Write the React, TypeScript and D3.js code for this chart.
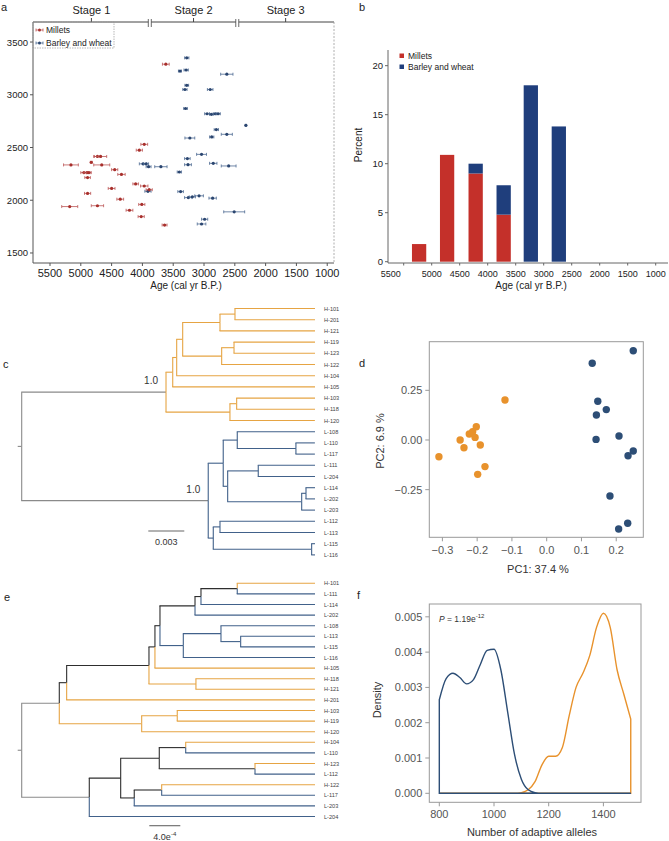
import * as d3 from "d3";
import React from "react";

const FONT = "'Liberation Sans', Arial, Helvetica, sans-serif";

// ---- panel a: dated grains (age cal yr BP, altitude m, 1-sigma error)
const milletAge = [3620, 3970, 4050, 4730, 4680, 4830, 5160, 4660, 4450, 4950, 4900, 4870, 4340, 4890, 4110, 3970, 4500, 3890, 4890, 4360, 4010, 5180, 4730, 4210, 4020, 3640];
const milletAlt = [3290, 2530, 2475, 2415, 2415, 2360, 2335, 2335, 2290, 2262, 2262, 2262, 2245, 2215, 2155, 2135, 2112, 2100, 2065, 2010, 1960, 1940, 1948, 1905, 1845, 1765];
const milletErr = [55, 55, 50, 60, 100, 15, 120, 130, 50, 50, 50, 40, 60, 45, 45, 60, 55, 50, 50, 55, 50, 130, 100, 55, 50, 40];

const barleyAge = [3280, 3390, 3290, 2630, 3280, 3310, 2900, 3300, 2950, 2880, 2820, 2770, 2320, 2800, 2630, 2875, 3230, 3040, 3270, 2850, 3990, 3940, 3260, 2600, 3900, 3700, 3400, 3910, 3380, 3255, 3190, 3080, 2860, 2510, 2990, 3040];
const barleyAlt = [3350, 3225, 3235, 3195, 3090, 3050, 3050, 2870, 2820, 2815, 2820, 2820, 2710, 2670, 2625, 2600, 2590, 2435, 2395, 2350, 2345, 2345, 2337, 2325, 2318, 2318, 2268, 2085, 2082, 2025, 2032, 2042, 2020, 1890, 1820, 1775];
const barleyErr = [35, 25, 35, 100, 30, 35, 45, 30, 40, 30, 30, 35, 10, 35, 90, 35, 80, 80, 45, 60, 60, 40, 55, 120, 40, 100, 35, 50, 45, 60, 50, 70, 60, 170, 50, 70];

const stageNames = ["Stage 1", "Stage 2", "Stage 3"];
const stageBreaks = [3880, 2460];
const ageTicks = [5500, 5000, 4500, 4000, 3500, 3000, 2500, 2000, 1500, 1000];
const altTicks = [1500, 2000, 2500, 3000, 3500];

// ---- panel b: percent per 500-yr bin
const binCenters = [5225, 4725, 4215, 3715, 3230, 2730];
const milletPct = [1.8, 10.9, 9.0, 4.8, 0, 0];
const barleyPct = [0, 0, 1.0, 3.0, 18.0, 13.8];
const pctTicks = [0, 5, 10, 15, 20];

// ---- panel c / e: trees
const treeC =
  "(((((((H-101:0.00667,H-201:0.00667):0.00125,H-121:0.00792):0.00311,((H-119:0.00675,H-123:0.00675):0.00103,H-122:0.00778):0.00325):0.0005,H-104:0.01153):0.00033,H-105:0.01186):0.00056,((H-103:0.00653,H-118:0.00653):0.00056,H-120:0.00708):0.00533)1.0:0.01203," +
  "(((L-108:0.00648,(L-110:0.00158,L-117:0.00158):0.00489):0.00117,((L-111:0.00473,L-204:0.00473):0.00255,((L-114:0.00075,L-202:0.00075):0.00036,L-203:0.00111):0.00617):0.00037):0.00125,((L-112:0.00792,L-113:0.00792):0.00056,(L-115:0.00028,L-116:0.00028):0.0082):0.00042)1.0:0.01555);";

const treeE =
  "(((((((((H-101:0.001003,L-111:0.001003):0.000468,L-114:0.001471):0.000077,L-202:0.001548):0.000452,((L-108:0.001213,(L-113:0.000959,L-115:0.000959):0.000254):0.000486,L-116:0.001699):0.000301):0.000065,H-105:0.002065):0.000077,(H-118:0.001535,H-121:0.001535):0.000606):0.001062,H-201:0.003204):0.000095,((H-103:0.001777,H-119:0.001777):0.000459,H-120:0.002236):0.001063):0.000485," +
  "((((H-104:0.001668,L-110:0.001668):0.000341,(H-123:0.000774,L-112:0.000774):0.001235):0.000498,((H-122:0.001978,L-117:0.001978):0.000354,L-203:0.002332):0.000175):0.000405,L-204:0.002912):0.000872);";

// ---- panel d: PCA
const hPC1 = [-0.12, -0.2025, -0.2227, -0.213, -0.206, -0.249, -0.238, -0.191, -0.31, -0.1775, -0.1985];
const hPC2 = [0.201, 0.067, 0.03, 0.042, 0.013, 0.0, -0.039, -0.025, -0.084, -0.134, -0.173];
const lPC1 = [0.249, 0.131, 0.147, 0.1715, 0.143, 0.142, 0.208, 0.249, 0.234, 0.182, 0.233, 0.207];
const lPC2 = [0.449, 0.386, 0.195, 0.153, 0.126, 0.003, 0.02, -0.055, -0.079, -0.282, -0.419, -0.448];
const pc1Ticks = [-0.3, -0.2, -0.1, 0.0, 0.1, 0.2];
const pc2Ticks = [-0.25, 0, 0.25];

// ---- panel f: density of adaptive alleles
const alleles = [800, 825, 850, 875, 900, 925, 950, 975, 1000, 1025, 1050, 1075, 1100, 1125, 1150, 1175, 1200, 1225, 1250, 1275, 1300, 1325, 1350, 1375, 1400, 1425, 1450, 1475, 1500];
const lowDens = [0.00265, 0.00325, 0.0034, 0.00328, 0.0031, 0.00322, 0.00365, 0.00405, 0.00408, 0.0035, 0.0023, 0.0011, 0.0004, 0.0001, 0.00002, 0, 0, 0, 0, 0, 0, 0, 0, 0, 0, 0, 0, 0, 0];
const highDens = [0, 0, 0, 0, 0, 0, 0, 0, 0, 0, 0, 0, 0.00002, 0.0001, 0.00033, 0.0008, 0.00105, 0.00105, 0.0013, 0.0022, 0.003, 0.0034, 0.0039, 0.0047, 0.0051, 0.0047, 0.0035, 0.0028, 0.0021];
const densTicks = [0, 0.001, 0.002, 0.003, 0.004, 0.005];
const alleleTicks = [800, 1000, 1200, 1400];

const RED_A = "#a8302c";
const BLUE_A = "#2b4670";
const RED_B = "#c4302a";
const BLUE_B = "#1f3e7c";
const ORANGE = "#e6a443";
const LBLUE = "#41618a";
const ORANGE_D = "#e8922c";
const BLUE_D = "#2d4e76";

type TNode = { name: string; len: number; children: TNode[] };

function parseNewick(str: string): TNode {
  let i = 0;
  function node(): TNode {
    const n: TNode = { name: "", len: 0, children: [] };
    if (str[i] === "(") {
      i++;
      n.children.push(node());
      while (str[i] === ",") {
        i++;
        n.children.push(node());
      }
      i++;
    }
    let tok = "";
    while (i < str.length && !",():;".includes(str[i])) tok += str[i++];
    n.name = tok;
    if (str[i] === ":") {
      i++;
      let num = "";
      while (i < str.length && !",();".includes(str[i])) num += str[i++];
      n.len = +num;
    }
    return n;
  }
  return node();
}

function Tree({
  newick, x0, x1, yStart, step, scaleLen, scaleLabel, scaleX, scaleY,
}: {
  newick: string; x0: number; x1: number; yStart: number; step: number;
  scaleLen: number; scaleLabel: React.ReactNode; scaleX: number; scaleY: number;
}) {
  const root = d3.hierarchy(parseNewick(newick), (d) => (d.children.length ? d.children : null));
  const depth = new Map<any, number>();
  root.eachBefore((n) => depth.set(n, n.parent ? depth.get(n.parent)! + n.data.len : 0));
  const maxDepth = d3.max(root.leaves(), (l) => depth.get(l)!)!;
  const x = d3.scaleLinear().domain([0, maxDepth]).range([x0, x1]);
  const yPos = new Map<any, number>();
  root.leaves().forEach((l, i) => yPos.set(l, yStart + i * step));
  root.eachAfter((n) => {
    if (n.children) yPos.set(n, (yPos.get(n.children[0])! + yPos.get(n.children[n.children.length - 1])!) / 2);
  });
  const color = (n: any) => {
    if (n.parent && !n.parent.parent) return "#8a8a8a";
    const tips = n.leaves().map((l: any) => l.data.name[0]);
    if (tips.every((t: string) => t === "H")) return ORANGE;
    if (tips.every((t: string) => t === "L")) return LBLUE;
    return "#2e2e2e";
  };
  const segs: React.ReactNode[] = [];
  root.descendants().forEach((n, i) => {
    if (!n.parent) return;
    const px = x(depth.get(n.parent)!);
    const py = yPos.get(n.parent)!;
    const nx = x(depth.get(n)!);
    const ny = yPos.get(n)!;
    const c = color(n);
    segs.push(<line key={"v" + i} x1={px} x2={px} y1={py} y2={ny} stroke={c} strokeWidth={1.1} />);
    segs.push(<line key={"h" + i} x1={px - 0.5} x2={nx} y1={ny} y2={ny} stroke={c} strokeWidth={1.1} />);
    if (n.data.name && n.children) {
      segs.push(
        <text key={"s" + i} x={nx - 8} y={ny - 8} textAnchor="end" fontSize={10} fill="#333">
          {n.data.name}
        </text>
      );
    }
  });
  const ry = yPos.get(root)!;
  return (
    <g>
      <line x1={x0 - 4} x2={x0} y1={ry} y2={ry} stroke="#8a8a8a" strokeWidth={1.1} />
      {segs}
      {root.leaves().map((l, i) => (
        <text key={i} x={x1 + 9} y={yPos.get(l)!} dominantBaseline="central" fontSize={5.6} fill="#444">
          {l.data.name}
        </text>
      ))}
      <line x1={scaleX} x2={scaleX + x(scaleLen) - x(0)} y1={scaleY} y2={scaleY} stroke="#666" strokeWidth={1.1} />
      <text x={scaleX + (x(scaleLen) - x(0)) / 2} y={scaleY + 14} textAnchor="middle" fontSize={9} fill="#333">
        {scaleLabel}
      </text>
    </g>
  );
}

function PanelA() {
  const left = 33, right = 334, top = 22, bottom = 263;
  const x = d3.scaleLinear().domain([5776, 890]).range([left, right]);
  const y = d3.scaleLinear().domain([1405, 3690]).range([bottom, top]);
  const b = stageBreaks.map(x);
  const segs = [[left, b[0] - 1.5], [b[0] + 1.5, b[1] - 1.5], [b[1] + 1.5, right]];
  const edges = [x.domain()[0], ...stageBreaks, x.domain()[1]];
  const series = [
    { age: barleyAge, alt: barleyAlt, err: barleyErr, c: BLUE_A, e: "#4d6a92" },
    { age: milletAge, alt: milletAlt, err: milletErr, c: RED_A, e: "#bb5555" },
  ];
  const icon = (cx: number, cy: number, c: string, e: string) => (
    <g>
      <line x1={cx - 3.5} x2={cx + 3.5} y1={cy} y2={cy} stroke={e} strokeWidth={0.8} />
      <line x1={cx - 3.5} x2={cx - 3.5} y1={cy - 1.5} y2={cy + 1.5} stroke={e} strokeWidth={0.8} />
      <line x1={cx + 3.5} x2={cx + 3.5} y1={cy - 1.5} y2={cy + 1.5} stroke={e} strokeWidth={0.8} />
      <circle cx={cx} cy={cy} r={1.5} fill={c} />
    </g>
  );
  return (
    <g>
      <text x={1} y={11} fontSize={11} fill="#222">a</text>
      {segs.map((s, i) => (
        <g key={i}>
          <line x1={s[0]} x2={s[1]} y1={top} y2={top} stroke="#444" strokeWidth={1} />
          {i > 0 && <line x1={s[0]} x2={s[0]} y1={top - 3} y2={top + 5} stroke="#444" strokeWidth={0.8} />}
          {i < 2 && <line x1={s[1]} x2={s[1]} y1={top - 3} y2={top + 5} stroke="#444" strokeWidth={0.8} />}
        </g>
      ))}
      {stageNames.map((s, i) => {
        const cx = x((edges[i] + edges[i + 1]) / 2);
        return (
          <g key={s}>
            <line x1={cx} x2={cx} y1={top - 4} y2={top} stroke="#444" />
            <text x={cx} y={14} textAnchor="middle" fontSize={11} fill="#222">{s}</text>
          </g>
        );
      })}
      <line x1={left} x2={left} y1={top} y2={bottom} stroke="#555" />
      <line x1={left} x2={right} y1={bottom} y2={bottom} stroke="#555" />
      <line x1={right} x2={right} y1={top} y2={bottom} stroke="#999" strokeDasharray="2,1.5" strokeWidth={0.8} />
      {altTicks.map((t) => (
        <g key={t}>
          <line x1={left - 3} x2={left} y1={y(t)} y2={y(t)} stroke="#555" />
          <text x={left - 5} y={y(t)} textAnchor="end" dominantBaseline="central" fontSize={9.5} fill="#222">{t}</text>
        </g>
      ))}
      {ageTicks.map((t) => (
        <g key={t}>
          <line x1={x(t)} x2={x(t)} y1={bottom} y2={bottom + 3} stroke="#555" />
          <text x={x(t)} y={bottom + 14} textAnchor="middle" fontSize={11} fill="#222">{t}</text>
        </g>
      ))}
      <text x={186} y={289} textAnchor="middle" fontSize={10} fill="#222">Age (cal yr B.P.)</text>
      {series.map((s, k) => (
        <g key={k}>
          {s.age.map((a, i) => {
            const cy = y(s.alt[i]);
            const xa = x(a + s.err[i]);
            const xb = x(a - s.err[i]);
            return (
              <g key={i}>
                <line x1={xa} x2={xb} y1={cy} y2={cy} stroke={s.e} strokeWidth={0.8} />
                <line x1={xa} x2={xa} y1={cy - 1.5} y2={cy + 1.5} stroke={s.e} strokeWidth={0.8} />
                <line x1={xb} x2={xb} y1={cy - 1.5} y2={cy + 1.5} stroke={s.e} strokeWidth={0.8} />
                <circle cx={x(a)} cy={cy} r={1.6} fill={s.c} />
              </g>
            );
          })}
        </g>
      ))}
      <rect x={left} y={top} width={81} height={26} fill="none" stroke="#999" strokeDasharray="1.5,1" strokeWidth={0.7} />
      {icon(39.5, 30, RED_A, "#bb5555")}
      <text x={46} y={30} dominantBaseline="central" fontSize={8.5} fill="#222">Millets</text>
      {icon(39.5, 43, BLUE_A, "#4d6a92")}
      <text x={46} y={43} dominantBaseline="central" fontSize={8.5} fill="#222">Barley and wheat</text>
    </g>
  );
}

function PanelB() {
  const left = 388, bottom = 263;
  const x = d3.scaleLinear().domain([5750, 850]).range([389.7, 664.1]);
  const y = d3.scaleLinear().domain([0, 21.6]).range([261.7, 50]);
  const bw = x(0) - x(255);
  return (
    <g>
      <text x={359} y={11} fontSize={11} fill="#222">b</text>
      <line x1={left} x2={left} y1={50} y2={bottom} stroke="#666" />
      <line x1={left} x2={668} y1={bottom} y2={bottom} stroke="#666" />
      {pctTicks.map((t) => (
        <g key={t}>
          <line x1={left - 3} x2={left} y1={y(t)} y2={y(t)} stroke="#666" />
          <text x={left - 5} y={y(t)} textAnchor="end" dominantBaseline="central" fontSize={9.5} fill="#222">{t}</text>
        </g>
      ))}
      {ageTicks.map((t, i) => (
        <g key={t}>
          <line x1={x(t)} x2={x(t)} y1={bottom} y2={bottom + 2.5} stroke="#666" />
          <text x={x(t) + (i === 0 ? -13 : 0)} y={bottom + 14} textAnchor="middle" fontSize={9} fill="#222">{t}</text>
        </g>
      ))}
      {binCenters.map((c, i) => (
        <g key={c}>
          {milletPct[i] > 0 && (
            <rect x={x(c) - bw / 2} y={y(milletPct[i])} width={bw} height={y(0) - y(milletPct[i])} fill={RED_B} />
          )}
          {barleyPct[i] > 0 && (
            <rect x={x(c) - bw / 2} y={y(milletPct[i] + barleyPct[i])} width={bw} height={y(milletPct[i]) - y(milletPct[i] + barleyPct[i])} fill={BLUE_B} />
          )}
        </g>
      ))}
      <text transform={`translate(362,145) rotate(-90)`} textAnchor="middle" fontSize={10} fill="#222">Percent</text>
      <text x={531} y={289} textAnchor="middle" fontSize={10} fill="#222">Age (cal yr B.P.)</text>
      <rect x={399.5} y={53.5} width={4.5} height={4.5} fill={RED_B} />
      <text x={408} y={56} dominantBaseline="central" fontSize={8.5} fill="#222">Millets</text>
      <rect x={399.5} y={64.5} width={4.5} height={4.5} fill={BLUE_B} />
      <text x={408} y={67} dominantBaseline="central" fontSize={8.5} fill="#222">Barley and wheat</text>
    </g>
  );
}

function PanelD() {
  const l = 429.3, r = 643.3, t = 341.7, b = 537.3;
  const x = d3.scaleLinear().domain([-0.3377, 0.2779]).range([l, r]);
  const y = d3.scaleLinear().domain([-0.4897, 0.4947]).range([b, t]);
  const fmt = (v: number, d: number) => (v < 0 ? "\u2212" : "") + Math.abs(v).toFixed(d);
  return (
    <g>
      <text x={359} y={367} fontSize={11} fill="#222">d</text>
      <rect x={l} y={t} width={r - l} height={b - t} fill="none" stroke="#999" />
      {pc2Ticks.map((v) => (
        <g key={v}>
          <line x1={l - 4} x2={l} y1={y(v)} y2={y(v)} stroke="#999" />
          <text x={l - 7} y={y(v)} textAnchor="end" dominantBaseline="central" fontSize={11} fill="#555">{fmt(v, 2)}</text>
        </g>
      ))}
      {pc1Ticks.map((v) => (
        <g key={v}>
          <line x1={x(v)} x2={x(v)} y1={b} y2={b + 4} stroke="#999" />
          <text x={x(v)} y={b + 17} textAnchor="middle" fontSize={11} fill="#555">{fmt(v, 1)}</text>
        </g>
      ))}
      <text transform={`translate(384,441) rotate(-90)`} textAnchor="middle" fontSize={11} fill="#333">PC2: 6.9 %</text>
      <text x={538} y={573} textAnchor="middle" fontSize={11} fill="#333">PC1: 37.4 %</text>
      {hPC1.map((v, i) => (
        <circle key={"h" + i} cx={x(v)} cy={y(hPC2[i])} r={3.7} fill={ORANGE_D} />
      ))}
      {lPC1.map((v, i) => (
        <circle key={"l" + i} cx={x(v)} cy={y(lPC2[i])} r={3.7} fill={BLUE_D} />
      ))}
    </g>
  );
}

function PanelF() {
  const l = 429.3, r = 641, t = 604, b = 802.3;
  const x = d3.scaleLinear().domain([763.4, 1537.5]).range([l, r]);
  const y = d3.scaleLinear().domain([-0.000255, 0.005363]).range([b, t]);
  const line = d3.line<number>().x((_, i) => x(alleles[i])).y((v) => y(v)).curve(d3.curveMonotoneX);
  const x0 = x(alleles[0]);
  const x1 = x(alleles[alleles.length - 1]);
  const path = (vals: number[]) =>
    `M${x0},${y(0)}` + line(vals)!.replace(/^M/, "L") + `L${x1},${y(0)}Z`;
  return (
    <g>
      <text x={357} y={599} fontSize={11} fill="#222">f</text>
      <rect x={l} y={t} width={r - l} height={b - t} fill="none" stroke="#999" />
      {densTicks.map((v) => (
        <g key={v}>
          <line x1={l - 4} x2={l} y1={y(v)} y2={y(v)} stroke="#999" />
          <text x={l - 7} y={y(v)} textAnchor="end" dominantBaseline="central" fontSize={11} fill="#555">{v.toFixed(3)}</text>
        </g>
      ))}
      {alleleTicks.map((v) => (
        <g key={v}>
          <line x1={x(v)} x2={x(v)} y1={b} y2={b + 4} stroke="#999" />
          <text x={x(v)} y={b + 16} textAnchor="middle" fontSize={11} fill="#555">{v}</text>
        </g>
      ))}
      <path d={path(highDens)} fill="none" stroke={ORANGE_D} strokeWidth={1.4} />
      <path d={path(lowDens)} fill="none" stroke={BLUE_D} strokeWidth={1.4} />
      <text transform={`translate(381,700) rotate(-90)`} textAnchor="middle" fontSize={11} fill="#333">Density</text>
      <text x={532} y={836} textAnchor="middle" fontSize={11} fill="#333">Number of adaptive alleles</text>
      <text x={439} y={622} fontSize={8.5} fill="#333">
        <tspan fontStyle="italic">P</tspan> = 1.19e
        <tspan fontSize={6} dy={-4}>-12</tspan>
      </text>
    </g>
  );
}

export default function App() {
  return (
    <svg width={669} height={841} style={{ position: "absolute", left: 0, top: 0, background: "#fff" }} fontFamily={FONT}>
      <PanelA />
      <PanelB />
      <text x={3} y={368} fontSize={11} fill="#222">c</text>
      <Tree newick={treeC} x0={21.7} x1={315} yStart={308.5} step={11.2} scaleLen={0.003} scaleLabel="0.003" scaleX={148.3} scaleY={531} />
      <PanelD />
      <text x={4} y={601} fontSize={11} fill="#222">e</text>
      <Tree
        newick={treeE} x0={21.7} x1={315} yStart={583.3} step={10.6} scaleLen={0.0004}
        scaleLabel={<>4.0e<tspan fontSize={6} dy={-4}>-4</tspan></>}
        scaleX={149.3} scaleY={825.7}
      />
      <PanelF />
    </svg>
  );
}
